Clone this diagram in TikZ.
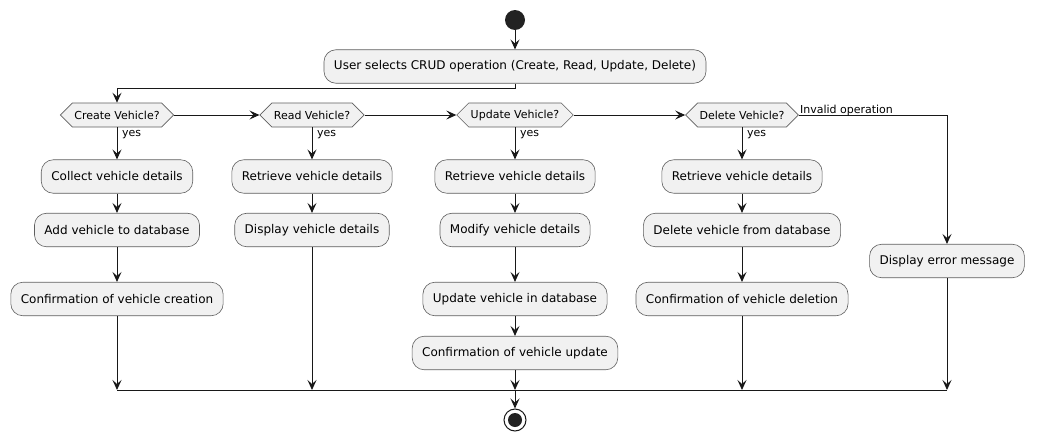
\documentclass[tikz,border=0pt]{standalone}
\usepackage{fontspec}
\setmainfont{DejaVu Sans}
\usetikzlibrary{arrows.meta,shapes.symbols}
\definecolor{boxfill}{HTML}{F1F1F1}
\definecolor{boxline}{HTML}{5E5E5E}
\definecolor{ink}{HTML}{181818}
\definecolor{dot}{HTML}{222222}
\begin{document}
\begin{tikzpicture}[x=1pt,y=-1pt,
  act/.style={draw=boxline,line width=0.6pt,fill=boxfill,rounded corners=12pt,
    minimum height=33.5pt,inner xsep=10pt,inner ysep=0pt,font=\fontsize{12}{14}\selectfont,text=black},
  hexa/.style={draw=boxline,line width=0.6pt,fill=boxfill,shape=signal,signal to=west and east,
    signal pointer angle=90,minimum height=24pt,inner xsep=2pt,inner ysep=0pt,
    font=\fontsize{11}{13}\selectfont,text=black},
  lbl/.style={font=\fontsize{11}{13}\selectfont,text=black,inner sep=0pt},
  arr/.style={draw=ink,line width=1pt,-{Stealth[length=10pt,width=9pt,inset=4pt]}},
  ln/.style={draw=ink,line width=1pt}]
\useasboundingbox (0,0) rectangle (1037,442);
% start
\node[circle,fill=dot,minimum size=20pt,inner sep=0pt] (start) at (515,20) {};
\node[act] (user) at (515,66.5) {User selects CRUD operation (Create, Read, Update, Delete)};
% decisions
\node[hexa] (d1) at (117,115) {Create Vehicle?};
\node[hexa] (d2) at (312,115) {Read Vehicle?};
\node[hexa] (d3) at (515,115) {Update Vehicle?};
\node[hexa] (d4) at (742,115) {Delete Vehicle?};
% column 1
\node[act] (c1) at (117,176.5) {Collect vehicle details};
\node[act] (c2) at (117,230) {Add vehicle to database};
\node[act] (c3) at (117,299) {Confirmation of vehicle creation};
% column 2
\node[act] (r1) at (312,176.5) {Retrieve vehicle details};
\node[act] (r2) at (312,230) {Display vehicle details};
% column 3
\node[act] (u1) at (515,176.5) {Retrieve vehicle details};
\node[act] (u2) at (515,230) {Modify vehicle details};
\node[act] (u3) at (515,299) {Update vehicle in database};
\node[act] (u4) at (515,353) {Confirmation of vehicle update};
% column 4
\node[act] (e1) at (742,176.5) {Retrieve vehicle details};
\node[act] (e2) at (742,230) {Delete vehicle from database};
\node[act] (e3) at (742,299) {Confirmation of vehicle deletion};
% column 5
\node[act] (x1) at (947,261) {Display error message};
% stop
\node[circle,draw=ink,line width=1pt,fill=white,minimum size=22pt,inner sep=0pt] (stop) at (515,420) {};
\node[circle,fill=dot,minimum size=14pt,inner sep=0pt] (stopin) at (stop.center) {};
% merge coordinates
\coordinate (mL) at (117,390);
\coordinate (mR) at (947,390);
\coordinate (inv) at (947,115);
% connectors
\draw[arr] (start) -- (user);
\draw[arr] (user.south) -- ++(0,5) -| (d1.north);
\draw[arr] (d1.east) -- (d2.west);
\draw[arr] (d2.east) -- (d3.west);
\draw[arr] (d3.east) -- (d4.west);
\draw[arr] (d4.east) -- (inv) -- (x1.north);
\node[lbl,anchor=south west] (invl) at ([xshift=1pt,yshift=-1pt]d4.east) {Invalid operation};
\draw[arr] (d1.south) -- (c1.north);
\draw[arr] (d2.south) -- (r1.north);
\draw[arr] (d3.south) -- (u1.north);
\draw[arr] (d4.south) -- (e1.north);
\node[lbl,anchor=west] (y1) at ([xshift=5pt,yshift=-7pt]d1.south) {yes};
\node[lbl,anchor=west] (y2) at ([xshift=5pt,yshift=-7pt]d2.south) {yes};
\node[lbl,anchor=west] (y3) at ([xshift=5pt,yshift=-7pt]d3.south) {yes};
\node[lbl,anchor=west] (y4) at ([xshift=5pt,yshift=-7pt]d4.south) {yes};
\draw[arr] (c1) -- (c2);
\draw[arr] (c2) -- (c3);
\draw[arr] (r1) -- (r2);
\draw[arr] (u1) -- (u2);
\draw[arr] (u2) -- (u3);
\draw[arr] (u3) -- (u4);
\draw[arr] (e1) -- (e2);
\draw[arr] (e2) -- (e3);
\draw[arr] (c3.south) -- (c3.south |- mL);
\draw[arr] (r2.south) -- (r2.south |- mL);
\draw[arr] (u4.south) -- (u4.south |- mL);
\draw[arr] (e3.south) -- (e3.south |- mL);
\draw[arr] (x1.south) -- (x1.south |- mL);
\draw[ln] (mL) -- (mR);
\draw[arr] (u4.south |- mL) -- (stop.north);
\end{tikzpicture}
\end{document}
